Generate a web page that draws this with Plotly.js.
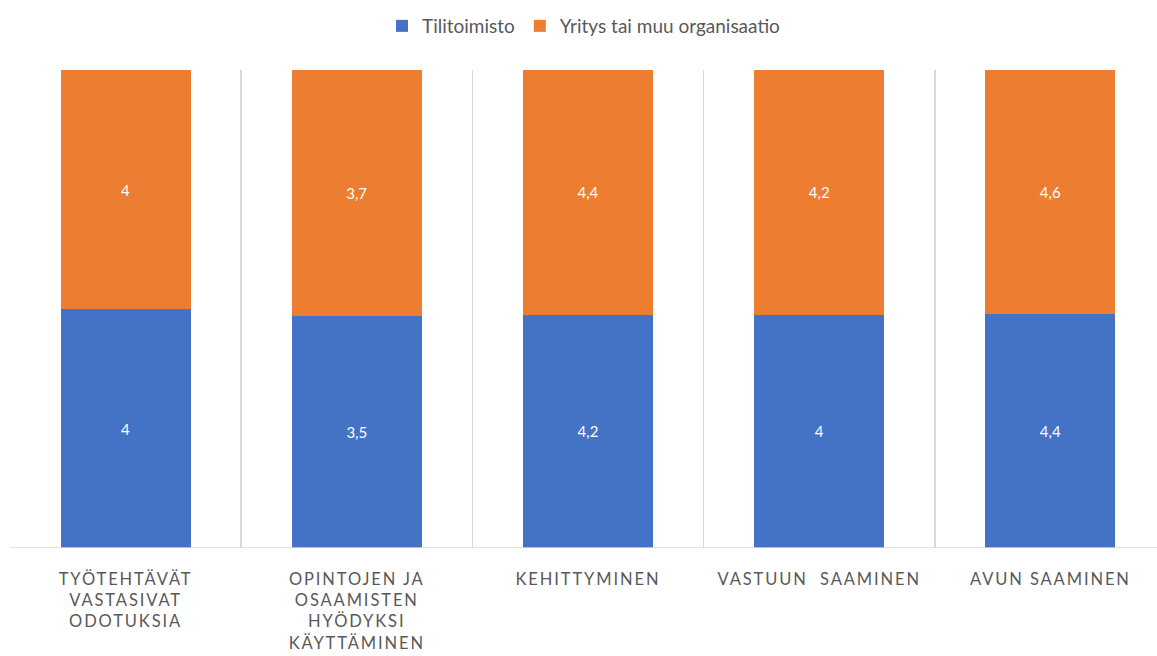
<!DOCTYPE html>
<html><head><meta charset="utf-8">
<script src="https://cdn.plot.ly/plotly-3.0.1.min.js"></script>
<style>
body{margin:0;background:#fff;}
.xtick text{letter-spacing:1.9px;}
</style>
</head><body>
<div id="chart" style="width:1157px;height:656px;"></div>
<script>
const categories = [
  "TYÖTEHTÄVÄT<br>VASTASIVAT<br>ODOTUKSIA",
  "OPINTOJEN JA<br>OSAAMISTEN<br>HYÖDYKSI<br>KÄYTTÄMINEN",
  "KEHITTYMINEN",
  "VASTUUN  SAAMINEN",
  "AVUN SAAMINEN"
];
const tilitoimisto = [4, 3.5, 4.2, 4, 4.4];
const yritys = [4, 3.7, 4.4, 4.2, 4.6];
const seriesNames = ["Tilitoimisto", "Yritys tai muu organisaatio"];

const idx = categories.map((c, i) => i);
const fmt = v => String(v).replace('.', ',');
const boundaries = idx.map(i => i - 0.5);

const common = {
  type: 'bar', x: idx, width: 0.563,
  textposition: 'inside', insidetextanchor: 'middle',
  textfont: {color: '#ffffff', size: 15, family: 'Lato, "Open Sans", sans-serif'},
  hoverinfo: 'none'
};
const data = [
  Object.assign({}, common, {name: seriesNames[0], y: tilitoimisto, text: tilitoimisto.map(fmt), marker: {color: '#4472c4'}}),
  Object.assign({}, common, {name: seriesNames[1], y: yritys, text: yritys.map(fmt), marker: {color: '#ed7d31'}})
];

const layout = {
  width: 1157, height: 656,
  margin: {l: 10, r: 0, t: 70, b: 108},
  barmode: 'stack', barnorm: 'percent',
  paper_bgcolor: '#ffffff', plot_bgcolor: '#ffffff',
  font: {family: 'Lato, "Open Sans", sans-serif', color: '#595959'},
  showlegend: true,
  legend: {orientation: 'h', x: 0.5, xanchor: 'center', y: 1 - 26/656, yref: 'container', yanchor: 'middle',
           font: {size: 19, color: '#595959'}, traceorder: 'normal', itemwidth: 30},
  xaxis: {
    range: [-0.5, -0.5 + 1147/231.2],
    tickvals: idx, ticktext: categories,
    ticks: '', showgrid: false, zeroline: false,
    showline: false,
    tickfont: {size: 16.5, color: '#595959'},
    ticklabelstandoff: 19,
    minor: {tickvals: boundaries, showgrid: true, gridcolor: '#d9d9d9', gridwidth: 1.5, ticks: ''}
  },
  yaxis: {
    range: [0, 100], showticklabels: false, showgrid: false, zeroline: false, ticks: '', showline: false
  },
  shapes: [{type: 'line', xref: 'paper', yref: 'y', x0: 0, x1: 1, y0: 0, y1: 0, line: {color: '#d9d9d9', width: 1.5}}]
};
Plotly.newPlot('chart', data, layout, {displayModeBar: false, staticPlot: true});
</script>
</body></html>
